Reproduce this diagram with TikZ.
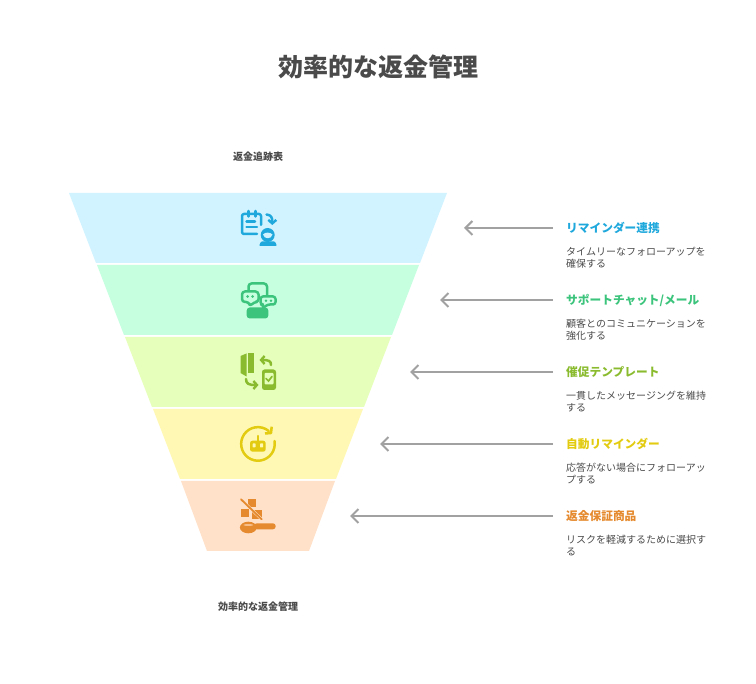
\documentclass[tikz,border=0pt]{standalone}
\usepackage{fontspec}
\setmainfont{Noto Sans CJK JP}
\usetikzlibrary{arrows.meta}
\definecolor{skyband}{HTML}{D0F3FF}
\definecolor{mintband}{HTML}{C6FFE0}
\definecolor{limeband}{HTML}{E6FFBA}
\definecolor{sandband}{HTML}{FFF8B5}
\definecolor{peachband}{HTML}{FFE0C8}
\definecolor{skyink}{HTML}{1FA8DC}
\definecolor{mintink}{HTML}{3CC47C}
\definecolor{limeink}{HTML}{8ABB2F}
\definecolor{sandink}{HTML}{E2CB10}
\definecolor{peachink}{HTML}{E58A2E}
\definecolor{bodyink}{HTML}{4A4A4A}

\begin{document}
\begin{tikzpicture}
[x=1pt, y=-1pt, every node/.style={inner sep=0pt},
 titletext/.style={text=bodyink, font=\fontsize{25pt}{30pt}\selectfont\bfseries},
 sidetext/.style={text=bodyink, font=\fontsize{10pt}{12pt}\selectfont\bfseries},
 headtext/.style={anchor=west, text height=10.2pt, text depth=0.2pt, font=\fontsize{11.7pt}{14pt}\selectfont\bfseries},
 desctext/.style={anchor=north west, align=left, text=bodyink, font=\fontsize{10pt}{12pt}\selectfont},
 pointer/.style={draw=black!37, line width=2pt, shorten <=13pt, -{Straight Barb[length=7pt,width=14pt,line width=2pt]}},
 stroke/.style={line width=2.5pt, line cap=round, line join=round},
 inkarrow/.style={stroke, -{Straight Barb[length=3.5pt,width=8pt,line width=2.4pt]}}]
\useasboundingbox (0,0) rectangle (756,684);

\node (title) [titletext] at (378, 67) {効率的な返金管理};
\node (toplabel) [sidetext] at (258, 157) {返金追跡表};
\node (bottomlabel) [sidetext] at (258, 607) {効率的な返金管理};

% funnel
\fill [skyband] (69,193) -- (447,193) -- (420,263) -- (96,263) -- cycle;
\fill [mintband] (97,265) -- (419,265) -- (392,335) -- (124,335) -- cycle;
\fill [limeband] (125,337) -- (391,337) -- (364,407) -- (152,407) -- cycle;
\fill [sandband] (153,409) -- (363,409) -- (336,479) -- (180,479) -- cycle;
\fill [peachband] (181,481) -- (335,481) -- (309,551) -- (207,551) -- cycle;

% arrow ends
\coordinate (tip1) at (464, 228);
\coordinate (tip2) at (440, 300);
\coordinate (tip3) at (410, 372);
\coordinate (tip4) at (380, 444);
\coordinate (tip5) at (350, 516);

% labels
\node (head1) [headtext, text=skyink] at (566, 228) {リマインダー連携};
\node (head2) [headtext, text=mintink] at (566, 300) {サポートチャット/メール};
\node (head3) [headtext, text=limeink] at (566, 372) {催促テンプレート};
\node (head4) [headtext, text=sandink] at (566, 444) {自動リマインダー};
\node (head5) [headtext, text=peachink] at (566, 516) {返金保証商品};
\node (desc1) [desctext] at (566, 246.5) {タイムリーなフォローアップを\\確保する};
\node (desc2) [desctext] at (566, 318.5) {顧客とのコミュニケーションを\\強化する};
\node (desc3) [desctext] at (566, 390.5) {一貫したメッセージングを維持\\する};
\node (desc4) [desctext] at (566, 462.5) {応答がない場合にフォローアッ\\プする};
\node (desc5) [desctext] at (566, 534.5) {リスクを軽減するために選択す\\る};

\draw [pointer] (head1.west) -- (tip1);
\draw [pointer] (head2.west) -- (tip2);
\draw [pointer] (head3.west) -- (tip3);
\draw [pointer] (head4.west) -- (tip4);
\draw [pointer] (head5.west) -- (tip5);

% icon 1
\draw [stroke, skyink, rounded corners=2pt] (257,234) -- (242,234) -- (242,214) -- (261,214) -- (261,225);
\draw [stroke, skyink] (248.3,211) -- (248.3,216.5) (255.7,211) -- (255.7,216.5);
\draw [stroke, skyink] (246.5,221.5) -- (255,221.5) (246.5,227) -- (257,227);
\draw [inkarrow, skyink] (266.5,214.5) .. controls (271,215) and (272.3,217) .. (272.3,225);
\fill [skyink] (267.7,235) circle [radius=7];
\fill [skyband] (263,234.5) .. controls (265,232) and (270,232) .. (272.5,234.5) .. controls (271.5,239.5) and (264,239.5) .. (263,234.5) -- cycle;
\fill [skyink, rounded corners=1pt] (259,246) -- (261,241.5) -- (275,241.5) -- (277,246) -- cycle;

% icon 2
\draw [stroke, mintink, rounded corners=3pt] (248.5,290) -- (248.5,283.5) -- (267,283.5) -- (267,295);
\fill [mintink, rounded corners=3pt] (246.7,307.5) -- (268.3,307.5) -- (268.3,318.5) -- (246.7,318.5) -- cycle;
\draw [stroke, mintink, fill=mintband, rounded corners=3pt] (242,291.5) -- (258.5,291.5) -- (258.5,302) -- (254,302) -- (250,306.5) -- (249,302) -- (242,302) -- cycle;
\draw [stroke, mintink, fill=mintband, rounded corners=2.5pt] (260.5,296.5) -- (275.5,296.5) -- (275.5,304.5) -- (267.5,304.5) -- (262.5,308.5) -- (263.5,304.5) -- (260.5,304.5) -- cycle;
\fill [mintink] (247.7,296.5) circle [radius=1.5] (252.7,296.5) circle [radius=1.5] (266,300.7) circle [radius=1.4] (271,300.7) circle [radius=1.4];

% icon 3
\fill [limeink] (240.5,356) -- (246.5,353.5) -- (246.5,376.5) -- (240.5,373) -- cycle;
\fill [limeink] (247.8,353.5) rectangle (254,373);
\draw [inkarrow, limeink] (271,365) .. controls (271,361) and (269,360) .. (259.5,360);
\fill [limeink, rounded corners=2.5pt] (262,369.5) rectangle (276,390);
\fill [limeband, rounded corners=1pt] (264.5,373) rectangle (273.5,384.5);
\draw [line width=1.7pt, limeink, line cap=round] (266,378.5) -- (268.5,381) -- (272,376.5);
\draw [inkarrow, limeink] (246,379) .. controls (246,384) and (249,385) .. (258.5,385);

% icon 4
\coordinate (arcstart) at (274.5,441);
\draw [stroke, sandink] (arcstart) arc [start angle=-10, end angle=310, radius=16.8];
\draw [stroke, sandink, line cap=butt] (265,433.5) -- (271,433) -- (271.7,426.7);
\draw [stroke, sandink] (257.8,436) -- (257.8,441);
\fill [sandink, rounded corners=2.5pt] (250,440.7) rectangle (265.7,451.7);
\fill [sandband, rounded corners=.5pt] (252.7,443.5) rectangle (255.5,447.5);
\fill [sandband, rounded corners=.5pt] (260.2,443.5) rectangle (263,447.5);

% icon 5
\fill [peachink] (247.7,499.5) rectangle (255.9,507.5);
\fill [peachink] (241,509.5) rectangle (249.2,517.5);
\fill [peachink] (252,510.3) rectangle (261.5,519);
\draw [line width=2.8pt, peachband] (241,499.3) -- (261.7,519.3);
\draw [line width=1.8pt, peachink, line cap=round] (241,499.3) -- (261.7,519.3);
\fill [peachink] (248.3,527.5) ellipse [x radius=8.4, y radius=5.8];
\fill [peachink, rounded corners=2.8pt] (254,523.3) rectangle (275.7,529.3);
\fill [peachband!60!peachink] (248.3,525) ellipse [x radius=5, y radius=1];
\end{tikzpicture}
\end{document}
